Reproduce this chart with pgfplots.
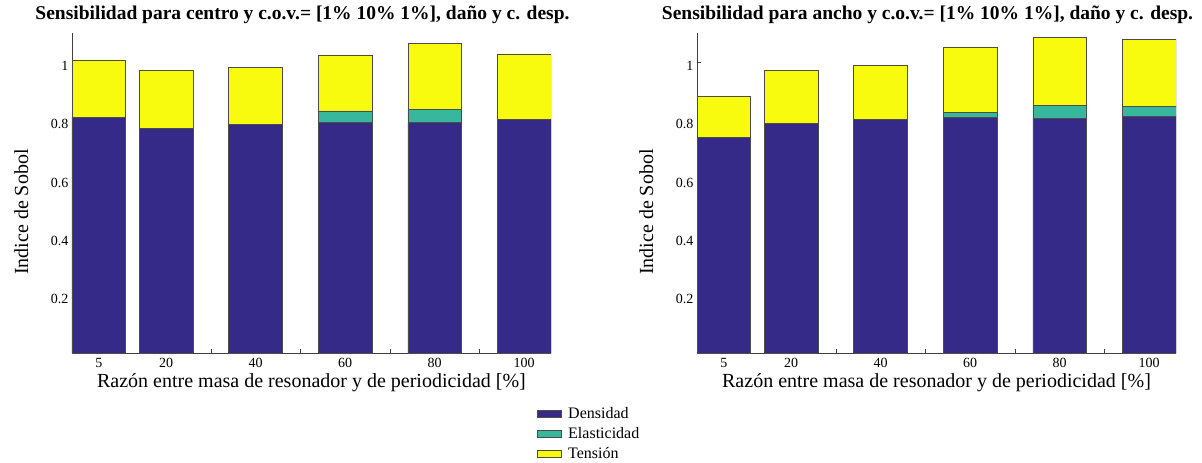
\documentclass[border=0pt]{standalone}
\usepackage{fontspec}
\setmainfont{Liberation Serif}
\usepackage{pgfplots}
\pgfplotsset{compat=1.18}
\definecolor{dens}{RGB}{53,42,135}
\definecolor{elas}{RGB}{55,184,157}
\definecolor{tens}{RGB}{249,251,14}
\pgfplotsset{boxlegend/.style={legend image code/.code={\draw[##1] (0pt,-3.5pt) rectangle (24pt,3.5pt); \path[draw=none,fill=none] (0pt,0pt) -- (29pt,0pt);}}}
\pgfplotsset{mystyle/.style={
  scale only axis, width=479pt, height=320pt,
  ybar stacked, bar width=12,
  xmin=-1, xmax=106, ymin=0, ymax=1.1,
  axis x line*=bottom, axis y line*=left,
  axis line style={black!75, line width=0.6pt},
  xtick={5,20,40,60,80,100},
  xticklabels={5,20,40,60,80,100},
  extra x ticks={30,50,70,90}, extra x tick labels={},
  ytick={0.2,0.4,0.6,0.8,1},
  yticklabels={0.2,0.4,0.6,0.8,1},
  tick align=inside, major tick length=4pt,
  tick style={black!75, line width=0.5pt},
  tick label style={font=\fontsize{14}{14}\selectfont},
  x tick label style={yshift=-1.5pt},
  y tick label style={yshift=-4pt},
  xlabel={Razón entre masa de resonador y de periodicidad [\%]},
  ylabel={Indice de Sobol},
  label style={font=\fontsize{20}{20}\selectfont},
  title style={font=\bfseries\fontsize{19.5}{19.5}\selectfont, at={(0.5,1)}, anchor=base, yshift=8pt, xshift=-9pt},
  xlabel style={at={(axis description cs:0.5,0)}, anchor=base, yshift=-34pt},
  ylabel style={at={(axis description cs:-0.106,0.44)}, anchor=center},
  every axis plot/.append style={draw=black!70, line width=0.5pt},
}}
\begin{document}
\begin{tikzpicture}
\path[use as bounding box] (0pt,0pt) rectangle (1202pt,-463pt);
\begin{axis}[mystyle, at={(72pt,-353pt)}, anchor=south west,
  title={Sensibilidad para centro y c.o.v.= [1\% 10\% 1\%], daño y c. desp.},
  legend style={at={(0.964,-0.157)}, anchor=north west, draw=none, fill=none,
    font=\fontsize{16}{16}\selectfont, cells={anchor=west}, row sep=3.5pt},
  ]
\addplot[fill=dens, boxlegend] coordinates {(5,0.811) (20,0.773) (40,0.787) (60,0.794) (80,0.792) (100,0.802)};
\addplot[fill=elas, boxlegend] coordinates {(5,0) (20,0) (40,0) (60,0.038) (80,0.046) (100,0)};
\addplot[fill=tens, boxlegend] coordinates {(5,0.197) (20,0.199) (40,0.195) (60,0.193) (80,0.226) (100,0.226)};
\legend{Densidad,Elasticidad,Tensión}
\end{axis}
\begin{axis}[mystyle, at={(697pt,-353pt)}, anchor=south west,
  title={Sensibilidad para ancho y c.o.v.= [1\% 10\% 1\%], daño y c. desp.},
  ]
\addplot[fill=dens] coordinates {(5,0.741) (20,0.790) (40,0.803) (60,0.810) (80,0.807) (100,0.814)};
\addplot[fill=elas] coordinates {(5,0) (20,0) (40,0) (60,0.017) (80,0.044) (100,0.035)};
\addplot[fill=tens] coordinates {(5,0.140) (20,0.182) (40,0.185) (60,0.225) (80,0.235) (100,0.228)};
\end{axis}
\end{tikzpicture}
\end{document}
